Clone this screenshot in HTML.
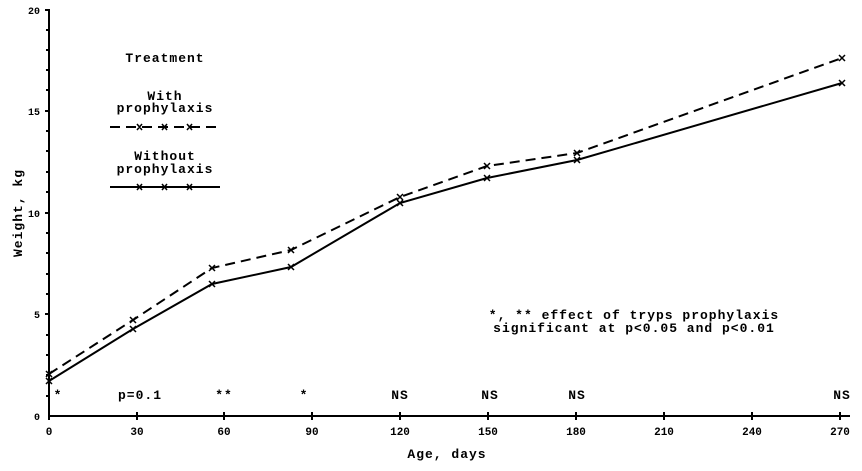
<!DOCTYPE html>
<html><head><meta charset="utf-8"><style>
html,body{margin:0;padding:0;background:#fff;}
svg text{font-family:"Liberation Mono",monospace;font-weight:bold;fill:#000;}
.w{font-size:13px;letter-spacing:1px;}
</style></head><body>
<svg width="862" height="466" viewBox="0 0 862 466" xmlns="http://www.w3.org/2000/svg">
<g stroke="#000" stroke-width="2" fill="none">
<line x1="49" y1="9" x2="49" y2="417"/>
<line x1="48" y1="416" x2="850" y2="416"/>
<path d="M45 10H49 M46 30H49 M46 50H49 M46 70H49 M46 90H49 M45 111H49 M46 131H49 M46 151H49 M46 172H49 M46 192H49 M45 213H49 M46 233H49 M46 253H49 M46 274H49 M46 294H49 M45 314H49 M46 335H49 M46 355H49 M46 375H49 M46 396H49"/>
<path d="M49 412V420 M137 412V420 M224 412V420 M312 412V420 M400 412V420 M488 412V420 M576 412V420 M664 412V420 M752 412V420 M840 412V420"/>
<polyline points="49,374 133,320 212,268 291,250 400,197 487,166 577,153 842,58" stroke-dasharray="10,6"/>
<polyline points="49,381 133,329 212,284 291,267 400,203 487,178 577,160 842,83"/>
<line x1="110" y1="127" x2="220" y2="127" stroke-dasharray="10,6"/>
<line x1="110" y1="187" x2="220" y2="187"/>
</g>
<g font-size="10" text-anchor="middle">
<g stroke="#000" stroke-width="1.5">
<path d="M46,371l6,6m0,-6l-6,6 M130,317l6,6m0,-6l-6,6 M209,265l6,6m0,-6l-6,6 M288,247l6,6m0,-6l-6,6 M397,194l6,6m0,-6l-6,6 M484,163l6,6m0,-6l-6,6 M574,150l6,6m0,-6l-6,6 M839,55l6,6m0,-6l-6,6"/>
<path d="M46,378l6,6m0,-6l-6,6 M130,326l6,6m0,-6l-6,6 M209,281l6,6m0,-6l-6,6 M288,264l6,6m0,-6l-6,6 M397,200l6,6m0,-6l-6,6 M484,175l6,6m0,-6l-6,6 M574,157l6,6m0,-6l-6,6 M839,80l6,6m0,-6l-6,6"/>
<path d="M137,124l5,6m0,-6l-5,6 M162,124l5,6m0,-6l-5,6 M187,124l5,6m0,-6l-5,6 M137,184l5,6m0,-6l-5,6 M162,184l5,6m0,-6l-5,6 M187,184l5,6m0,-6l-5,6"/>
</g>
<text x="40" y="14" text-anchor="end">20</text>
<text x="40" y="115" text-anchor="end">15</text>
<text x="40" y="217" text-anchor="end">10</text>
<text x="40" y="318" text-anchor="end">5</text>
<text x="40" y="420" text-anchor="end">0</text>
<g font-size="11"><text x="49" y="435">0</text><text x="137" y="435">30</text><text x="224" y="435">60</text><text x="312" y="435">90</text><text x="400" y="435">120</text><text x="488" y="435">150</text><text x="576" y="435">180</text><text x="664" y="435">210</text><text x="752" y="435">240</text><text x="840" y="435">270</text></g>
<text class="w" x="447" y="458">Age, days</text>
<text class="w" x="22" y="213" transform="rotate(-90 22 213)">Weight, kg</text>
<text class="w" x="165" y="62">Treatment</text>
<text class="w" x="165" y="100">With</text>
<text class="w" x="165" y="112">prophylaxis</text>
<text class="w" x="165" y="160">Without</text>
<text class="w" x="165" y="173">prophylaxis</text>
<text class="w" x="634" y="319">*, ** effect of tryps prophylaxis</text>
<text class="w" x="634" y="332">significant at p&lt;0.05 and p&lt;0.01</text>
<g class="w"><text x="58" y="399">*</text><text x="140" y="399">p=0.1</text><text x="224" y="399">**</text><text x="304" y="399">*</text><text x="400" y="399">NS</text><text x="490" y="399">NS</text><text x="577" y="399">NS</text><text x="842" y="399">NS</text></g>
</g>
</svg>
</body></html>
